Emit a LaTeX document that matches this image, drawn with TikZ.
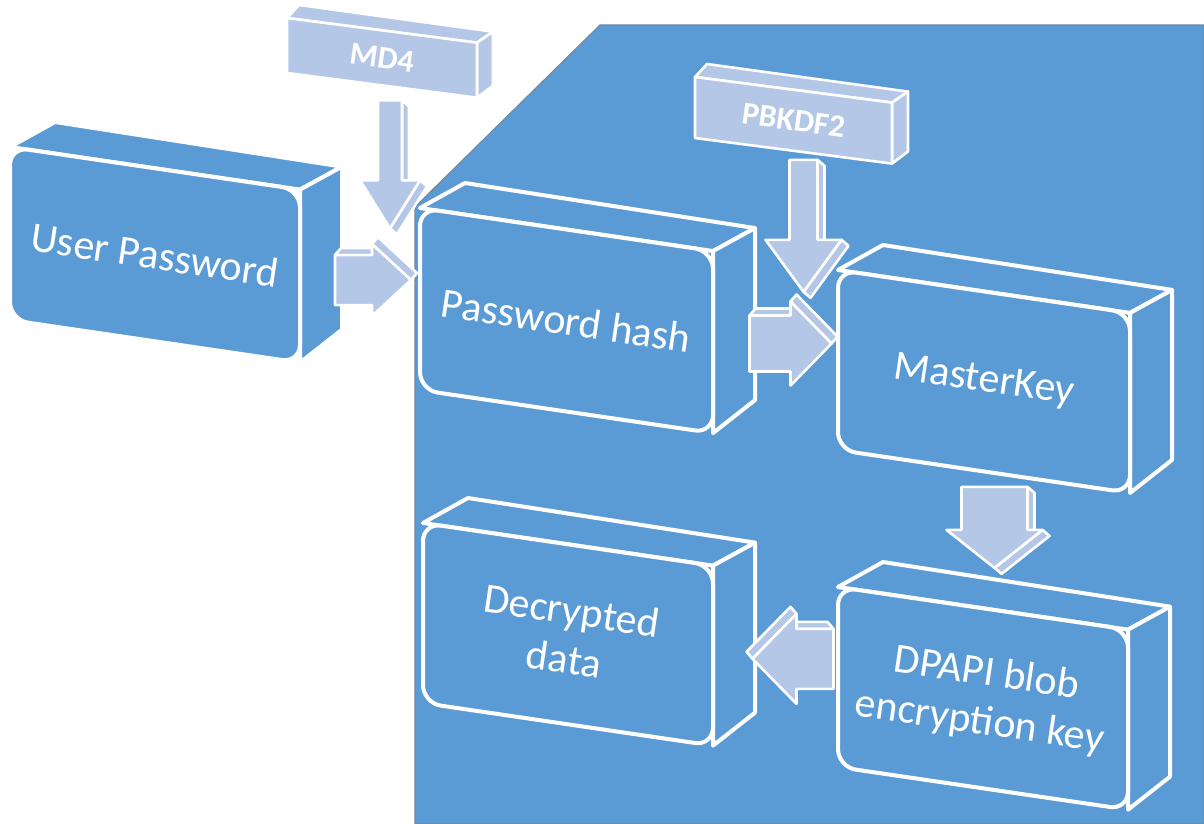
\documentclass[tikz,border=0pt]{standalone}
\usepackage{fontspec}
\setmainfont{Carlito}
\usetikzlibrary{calc}

\definecolor{panelblue}{HTML}{5B9BD5}
\definecolor{lightblue}{HTML}{B4C7E7}

\tikzset{
  boxface/.style={fill=panelblue, draw=white, line width=2pt, line join=round},
  tagface/.style={fill=lightblue, draw=white, line width=1.3pt, line join=round},
  boxtext/.style={text=white, font=\fontsize{21}{24.5}\selectfont, rotate=-8.4, align=center},
  tagtext/.style={text=white, font=\fontsize{16}{19}\selectfont\bfseries, rotate=-8},
  pics/blockarrow/.style n args={4}{code={
    % extruded faces
    \filldraw[tagface] (-#1,-#2) -- ++(6,-7) -- (6,-#2-7) -- (0,-#2) -- cycle;
    \filldraw[tagface] (0,-#4) -- ++(6,-7) -- (#3+6,-7) -- (#3,0) -- cycle;
    % front face
    \filldraw[tagface] (-#1,-#2) -- (0,-#2) -- (0,-#4) -- (#3,0) -- (0,#4) -- (0,#2) -- (-#1,#2) -- cycle;
  }}
}

\begin{document}
\begin{tikzpicture}[x=0.5pt, y=-0.5pt]
    \useasboundingbox (0,0) rectangle (1204,824);

    % Background panel
    \filldraw[fill=panelblue, draw=gray!60!panelblue, line width=0.6pt]
        (600,25) -- (1204,25) -- (1204,824) -- (415,824) -- (415,207) -- cycle;

    % Boxes
    \foreach \x/\y/\w/\h/\n/\lbl in {10/147/290/173/user/User Password,
        420/208/293/182/hash/Password hash, 838/270/292/180/master/MasterKey,
        423/523/290/180/decrypted/{Decrypted\\data},
        838/587/290/180/dpapi/{DPAPI blob\\encryption key}} {
        \pgfmathsetmacro{\s}{0.147*\w}
        \begin{scope}[shift={(\x,\y)}]
            \filldraw[boxface] (0,0) -- (45,-25) -- (\w+42,\s-23) -- (\w,\s) -- cycle;
            \filldraw[boxface] (\w,\s) -- (\w+42,\s-23) -- (\w+42,\s+\h-33) -- (\w,\s+\h) -- cycle;
            \filldraw[boxface, rounded corners=9pt] (0,0) -- (\w,\s) -- (\w,\s+\h) -- (0,\h) -- cycle;
            \node[boxtext] (\n) at (\w/2,\s/2+\h/2) {\lbl};
            \coordinate (\n-w) at (0,\h/2);
            \coordinate (\n-e) at (\w+42,\s+\h/2-15);
            \coordinate (\n-n) at (\w/2+22,\s/2-24);
            \coordinate (\n-s) at (\w/2,\s/2+\h);
        \end{scope}
    }

    % Hash labels
    \foreach \x/\y/\w/\h/\n/\lbl in {287/18/190/55/md4/MD4, 695/77/197/61/pbkdf2/PBKDF2} {
        \pgfmathsetmacro{\s}{0.13*\w}
        \begin{scope}[shift={(\x,\y)}]
            \filldraw[tagface] (0,0) -- (12,-13) -- (\w+16,\s-11) -- (\w,\s) -- cycle;
            \filldraw[tagface] (\w,\s) -- (\w+16,\s-11) -- (\w+16,\s+\h-12) -- (\w,\s+\h) -- cycle;
            \filldraw[tagface] (0,0) -- (\w,\s) -- (\w,\s+\h) -- (0,\h) -- cycle;
            \node[tagtext] (\n) at (\w/2,\s/2+\h/2) {\lbl};
            \coordinate (\n-s) at (\w/2,\s/2+\h);
        \end{scope}
    }

    % Arrows
    \pic[rotate=-90] at ($(md4-s)+(8,95)$) {blockarrow={80}{12}{48}{30}};
    \pic[rotate=-90] at ($(pbkdf2-s)+(10,89)$) {blockarrow={80}{14}{52}{38}};
    \pic at ($(user-e)!0.5!(hash-w)+(-9,0)$) {blockarrow={37}{25}{39}{36}};
    \pic at ($(hash-e)!0.5!(master-w)+(-6,0)$) {blockarrow={41}{28}{41}{42}};
    \pic[rotate=-90] at ($(master-s)!0.5!(dpapi-n)+(0,2)$) {blockarrow={43}{33}{38}{48}};
    \pic[xscale=-1] at ($(dpapi-w)!0.5!(decrypted-e)$) {blockarrow={37}{30}{44}{45}};
\end{tikzpicture}
\end{document}
